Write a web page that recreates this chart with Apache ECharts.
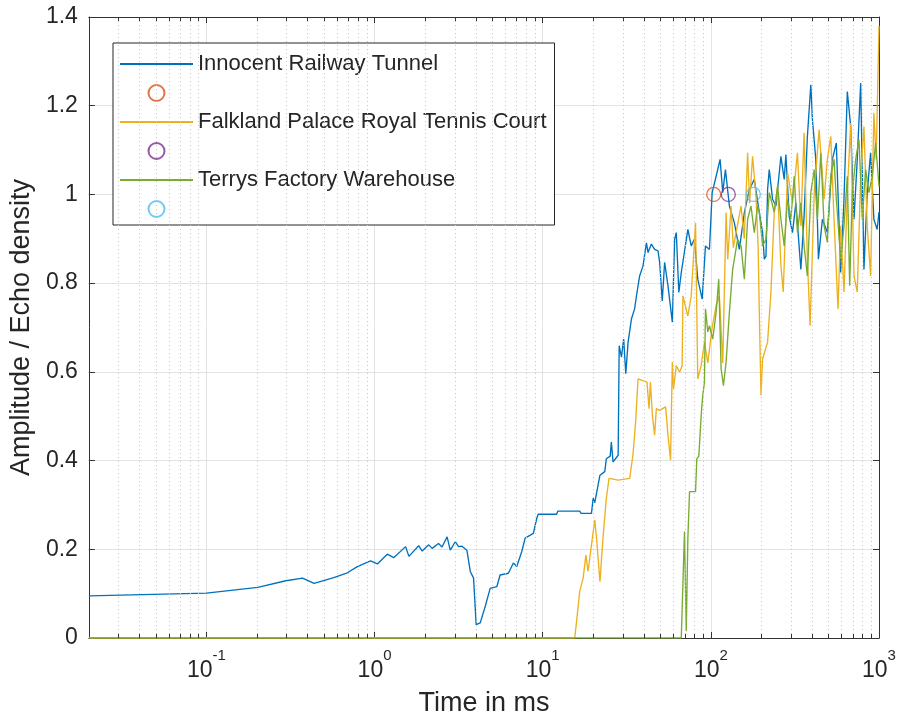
<!DOCTYPE html>
<html>
<head>
<meta charset="utf-8">
<script src="https://cdn.jsdelivr.net/npm/echarts@6/dist/echarts.min.js"></script>
<style>
html,body{margin:0;padding:0;background:#fff;}
#chart{width:899px;height:722px;}
</style>
</head>
<body>
<div id="chart"></div>
<script>
// ---- Data (time in ms, amplitude / echo density) ----
const seriesNames = ['Innocent Railway Tunnel', 'Falkland Palace Royal Tennis Court', 'Terrys Factory Warehouse'];

const tunnel = [[0.02,0.095],[0.1,0.101],[0.202,0.114],[0.297,0.129],[0.373,0.135],[0.437,0.123],[0.572,0.136],[0.689,0.147],[0.79,0.161],[0.947,0.174],[1.04,0.167],[1.19,0.189],[1.3,0.181],[1.53,0.206],[1.6,0.184],[1.83,0.208],[1.92,0.196],[2.1,0.21],[2.2,0.202],[2.4,0.213],[2.52,0.205],[2.7,0.228],[2.82,0.198],[3.02,0.217],[3.16,0.206],[3.31,0.207],[3.54,0.198],[3.71,0.15],[3.88,0.135],[4.02,0.03],[4.25,0.034],[4.55,0.071],[4.87,0.112],[5.34,0.116],[5.58,0.142],[6.25,0.146],[6.69,0.169],[7.01,0.161],[7.51,0.195],[7.86,0.225],[8.8,0.236],[9.22,0.27],[9.4,0.279],[12.1,0.279],[12.3,0.286],[16.6,0.286],[16.9,0.281],[19.5,0.281],[19.95,0.315],[20.4,0.305],[21.9,0.367],[23.4,0.375],[23.9,0.404],[25.2,0.41],[25.6,0.442],[26.2,0.397],[28.1,0.412],[28.5,0.659],[29.4,0.633],[30.3,0.674],[31.2,0.596],[32.2,0.667],[33.7,0.719],[35.2,0.742],[36.1,0.771],[37.7,0.816],[39.5,0.839],[41.4,0.891],[42.3,0.869],[44.3,0.888],[46.3,0.876],[48.5,0.873],[49.6,0.847],[51.4,0.76],[53.1,0.847],[55.6,0.794],[59.0,0.712],[60.9,0.899],[62.3,0.914],[64.5,0.779],[66.7,0.824],[73.0,0.921],[76.4,0.884],[79.9,0.899],[83.6,0.809],[88.8,0.764],[92.9,0.884],[98.1,0.876],[101.8,1.004],[107.5,1.041],[113.5,1.079],[117.7,1.004],[122.1,1.056],[128.9,0.974],[138,0.936],[147.7,0.876],[158.2,0.959],[169.4,1.011],[181.3,1.034],[194.2,0.959],[203.1,0.914],[207.9,0.854],[212.7,0.861],[217.5,1.011],[222.5,1.056],[232.8,0.989],[243.8,0.974],[261,1.086],[273.1,1.034],[279.4,1.09],[292.3,0.951],[305.9,0.914],[320.3,0.981],[343,0.831],[358.5,0.951],[375.1,1.131],[393.1,1.247],[401.8,1.169],[420.8,1.079],[436.2,0.854],[460.6,0.944],[493,0.914],[528,1.079],[557.4,1.116],[591.8,0.824],[619.1,0.989],[648,1.232],[678.7,1.153],[710,0.944],[742.5,1.079],[778,1.251],[813.6,0.831],[851,1.004],[891.5,1.094],[932.3,0.944],[975,0.921],[1000,0.96]];

const falkland = [[0.02,0],[15.5,0],[15.9,0.037],[16.6,0.105],[17.4,0.135],[18.06,0.187],[18.6,0.15],[19.5,0.21],[20.4,0.266],[20.9,0.225],[21.9,0.127],[22.9,0.232],[23.9,0.315],[24.8,0.36],[28.1,0.356],[32.9,0.36],[34.4,0.412],[35.7,0.487],[36.9,0.584],[37.7,0.588],[41.7,0.577],[42.9,0.517],[43.7,0.577],[44.9,0.502],[46.3,0.457],[47.4,0.517],[49.6,0.513],[53.8,0.521],[55.6,0.457],[57.6,0.401],[59.0,0.622],[60.0,0.562],[62.3,0.614],[63.6,0.607],[65.2,0.599],[67.5,0.614],[68.2,0.771],[73.0,0.726],[76.4,0.771],[81.1,0.936],[83.6,0.584],[87.6,0.614],[91.6,0.667],[95.9,0.62],[101.8,0.7],[107.5,0.75],[112.4,0.771],[117.7,0.62],[123.2,0.959],[126,0.854],[131.9,0.974],[136,0.88],[141.3,0.914],[151.2,0.974],[158,0.9],[165.5,1.094],[170,0.98],[177.1,1.086],[185.5,0.996],[191,0.884],[194.2,0.734],[198.7,0.547],[203,0.629],[217.5,0.667],[227.6,0.78],[238.3,0.96],[249.3,1.018],[261,0.84],[269.4,0.78],[285.8,1.049],[305.9,0.981],[327.4,1.094],[343,0.929],[358.5,1.139],[375.1,0.854],[389.2,0.704],[411.8,1.004],[440.4,1.146],[471.5,0.989],[493,1.079],[516.7,1.131],[540.3,0.944],[570.4,0.742],[591.8,0.929],[619.1,0.78],[648,1.004],[678.7,1.161],[710,0.816],[742.5,0.78],[778,1.041],[813.6,1.153],[851,0.929],[891.5,0.816],[932.3,1.184],[962,1.079],[1000,1.38]];

const terrys = [[0.02,0],[66.7,0],[69.7,0.24],[71.4,0.015],[73.0,0.225],[74.7,0.33],[81.1,0.33],[82.5,0.404],[84.8,0.41],[87.6,0.502],[89.5,0.547],[91.6,0.577],[92.9,0.742],[95.9,0.69],[98.1,0.704],[102.6,0.674],[107.5,0.734],[111.4,0.809],[115.1,0.607],[118.8,0.569],[123.2,0.622],[128.9,0.734],[134.8,0.831],[144.3,0.899],[151.2,0.884],[158.2,0.809],[165.5,0.944],[173.3,0.974],[181.3,0.914],[189.7,0.974],[194.2,0.96],[203.1,0.884],[212.7,0.899],[222.5,1.004],[238.3,0.96],[249.3,1.018],[261,0.944],[273.1,0.884],[285.8,0.989],[299.2,0.944],[313.1,1.041],[327.4,0.914],[343,0.981],[358.5,0.884],[375.1,0.816],[393.1,1.004],[411.8,1.056],[430.3,0.944],[450.8,1.094],[471.5,0.929],[493,0.892],[516.7,1.041],[540.3,1.079],[557.4,0.989],[591.8,0.854],[619.1,0.929],[648,1.041],[669.3,0.794],[693.5,1.004],[726.6,1.079],[760.3,1.124],[795.3,0.944],[832.6,1.056],[871,1.004],[912,1.041],[955,1.116],[1000,1.018]];

// circle markers (one per room)
const markerTimes = [104, 127, 179];
const markerAmps = [1.0, 1.0, 1.0];

// axis settings
const xMin = 0.02, xMax = 1000;
const yMin = 0, yMax = 1.4, yStep = 0.2;
const minorMultipliers = [2, 3, 4, 5, 6, 7, 8, 9];
const decades = [0.01, 0.1, 1, 10, 100];

// ---- styling ----
const FONT = 'Liberation Sans';
const TXT = '#262626';
const AX = '#333333';
const lineColors = ['#0072BD', '#EDB120', '#77AC30'];
const markerColors = ['#D95319', '#7E2F8E', '#4DBEEE'];

const minorVals = [];
decades.forEach(d => minorMultipliers.forEach(m => {
  const v = +(d * m).toPrecision(6);
  if (v > xMin && v < xMax) minorVals.push(v);
}));

function xLabel(v) {
  const e = Math.log10(v);
  const r = Math.round(e);
  if (Math.abs(e - r) > 1e-6) return '';
  return '{b|10}{s|' + r + '}';
}

const chart = echarts.init(document.getElementById('chart'), null, {renderer: 'canvas'});

const series = [];
// minor grid + minor ticks (decoration, uses axis scale)
series.push({
  type: 'line', name: '_grid', data: [], silent: true, z: 0,
  markLine: {
    silent: true, symbol: ['none', 'none'], animation: false,
    label: {show: false},
    lineStyle: {type: [1, 3], color: '#c4c4c4', width: 1},
    data: minorVals.map(v => ({xAxis: v}))
  }
});
series.push({
  type: 'line', name: '_ticks', data: [], silent: true, z: 5,
  markLine: {
    silent: true, symbol: ['none', 'none'], animation: false,
    label: {show: false},
    lineStyle: {type: 'solid', color: AX, width: 1},
    data: minorVals.map(v => [{coord: [v, yMin]}, {coord: [v, yMin + 0.009]}])
      .concat(minorVals.map(v => [{coord: [v, yMax]}, {coord: [v, yMax - 0.009]}]))
  }
});

const lineData = [tunnel, falkland, terrys];
for (let i = 0; i < 3; i++) {
  series.push({
    type: 'line', name: seriesNames[i], data: lineData[i],
    symbol: 'none', showSymbol: false, sampling: false,
    lineStyle: {color: lineColors[i], width: 1.35},
    itemStyle: {color: lineColors[i]},
    z: 2 + i, animation: false
  });
  series.push({
    type: 'scatter', name: ' '.repeat(i + 1),
    data: [[markerTimes[i], markerAmps[i]]],
    symbol: 'circle', symbolSize: 14,
    itemStyle: {color: 'rgba(255,255,255,0)', borderColor: markerColors[i], borderWidth: 1.3},
    z: 6, animation: false
  });
}

const legendData = [];
for (let i = 0; i < 3; i++) {
  legendData.push({name: seriesNames[i], itemStyle: {opacity: 0}});
  legendData.push({name: ' '.repeat(i + 1)});
}

chart.setOption({
  animation: false,
  backgroundColor: '#fff',
  grid: {left: 88, right: 20, top: 17, bottom: 82, containLabel: false},
  legend: {
    data: legendData, orient: 'vertical', left: 113, top: 43,
    padding: [10, 8, 5, 6], itemGap: 7, itemWidth: 73, itemHeight: 16,
    backgroundColor: '#fff', borderColor: '#262626', borderWidth: 1,
    borderRadius: 0, selectedMode: false,
    textStyle: {fontFamily: FONT, fontSize: 22, color: TXT}
  },
  xAxis: [{
    type: 'log', logBase: 10, min: xMin, max: xMax,
    name: 'Time in ms', nameLocation: 'middle', nameGap: 52,
    nameTextStyle: {fontFamily: FONT, fontSize: 27, color: TXT},
    axisLine: {show: true, onZero: false, lineStyle: {color: AX, width: 1}},
    axisTick: {show: true, inside: true, length: 6, lineStyle: {color: AX}},
    axisLabel: {
      showMinLabel: false, margin: 10, formatter: xLabel, color: TXT,
      rich: {
        b: {fontFamily: FONT, fontSize: 23, color: TXT, lineHeight: 34, verticalAlign: 'bottom'},
        s: {fontFamily: FONT, fontSize: 15, color: TXT, lineHeight: 16, verticalAlign: 'top'}
      }
    },
    splitLine: {show: true, lineStyle: {color: '#e3e3e3', width: 1}},
    minorTick: {show: false}, minorSplitLine: {show: false}
  }, {
    type: 'log', logBase: 10, min: xMin, max: xMax, position: 'top',
    axisLine: {show: true, onZero: false, lineStyle: {color: AX, width: 1}},
    axisTick: {show: true, inside: true, length: 6, lineStyle: {color: AX}},
    axisLabel: {show: false}, splitLine: {show: false}
  }],
  yAxis: [{
    type: 'value', min: yMin, max: yMax, interval: yStep,
    name: 'Amplitude / Echo density', nameLocation: 'middle', nameGap: 52, nameRotate: 90,
    nameTextStyle: {fontFamily: FONT, fontSize: 27, color: TXT},
    axisLine: {show: true, lineStyle: {color: AX, width: 1}},
    axisTick: {show: true, inside: true, length: 6, lineStyle: {color: AX}},
    axisLabel: {fontFamily: FONT, fontSize: 23, color: TXT, margin: 11},
    splitLine: {show: true, lineStyle: {color: '#e3e3e3', width: 1}}
  }, {
    type: 'value', min: yMin, max: yMax, interval: yStep, position: 'right',
    axisLine: {show: true, lineStyle: {color: AX, width: 1}},
    axisTick: {show: true, inside: true, length: 6, lineStyle: {color: AX}},
    axisLabel: {show: false}, splitLine: {show: false}
  }],
  series: series
});
</script>
</body>
</html>
